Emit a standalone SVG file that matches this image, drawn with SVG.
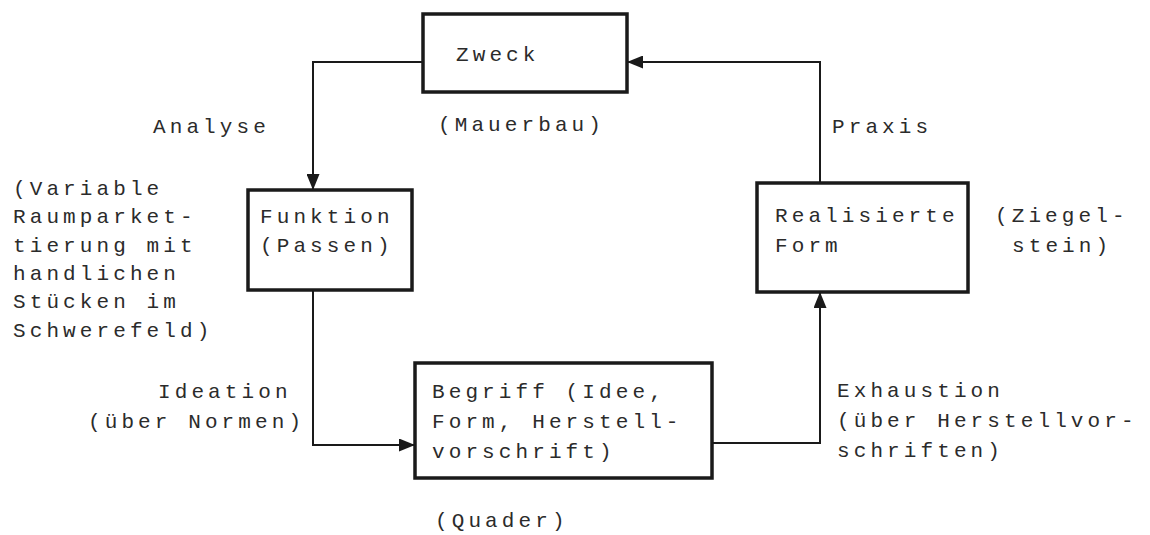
<svg xmlns="http://www.w3.org/2000/svg" width="1150" height="535" viewBox="0 0 1150 535">
  <style>
    .box { fill: #ffffff; stroke: #1a1a1a; stroke-width: 3.5; }
    .wire { fill: none; stroke: #1a1a1a; stroke-width: 2; }
    text { font-family: "Liberation Mono", "Courier New", monospace; font-size: 21px; letter-spacing: 4.1px; fill: #2b2b2b; }
  </style>
  <defs>
    <marker id="arrow" viewBox="0 0 16 13" refX="16" refY="6.5" markerWidth="16" markerHeight="13" markerUnits="userSpaceOnUse" orient="auto">
      <path d="M0,0 L16,6.5 L0,13 z" fill="#1a1a1a"/>
    </marker>
  </defs>
  <rect width="1150" height="535" fill="#ffffff"/>

  <!-- connectors: Analyse, Ideation, Exhaustion, Praxis -->
  <g id="connectors">
    <path class="wire" d="M423,62 H313 V190" marker-end="url(#arrow)"/>
    <path class="wire" d="M313,290 V445 H415" marker-end="url(#arrow)"/>
    <path class="wire" d="M712,443 H820 V292" marker-end="url(#arrow)"/>
    <path class="wire" d="M820,183 V62 H627" marker-end="url(#arrow)"/>
  </g>

  <!-- edge labels -->
  <g id="labels">
    <text x="153" y="133">Analyse</text>
    <text x="832" y="133">Praxis</text>
    <text x="158" y="398">Ideation</text>
    <text x="88" y="428">(über Normen)</text>
    <text x="837" y="397">Exhaustion</text>
    <text x="837" y="427">(über Herstellvor-</text>
    <text x="837" y="457">schriften)</text>
  </g>

  <g id="zweck">
    <rect class="box" x="423" y="14" width="204" height="78"/>
    <text x="456" y="61">Zweck</text>
    <text x="438" y="131">(Mauerbau)</text>
  </g>

  <g id="funktion">
    <rect class="box" x="248" y="190" width="164" height="100"/>
    <text x="260" y="223">Funktion</text>
    <text x="260" y="252">(Passen)</text>
    <text x="13" y="195">(Variable</text>
    <text x="13" y="223">Raumparket-</text>
    <text x="13" y="252">tierung mit</text>
    <text x="13" y="280">handlichen</text>
    <text x="13" y="308">Stücken im</text>
    <text x="13" y="337">Schwerefeld)</text>
  </g>

  <g id="begriff">
    <rect class="box" x="415" y="363" width="297" height="115"/>
    <text x="432" y="398">Begriff (Idee,</text>
    <text x="432" y="428">Form, Herstell-</text>
    <text x="432" y="458">vorschrift)</text>
    <text x="435" y="527">(Quader)</text>
  </g>

  <g id="realisierte-form">
    <rect class="box" x="757" y="183" width="211" height="109"/>
    <text x="775" y="222">Realisierte</text>
    <text x="775" y="252">Form</text>
    <text x="995" y="222">(Ziegel-</text>
    <text x="1012" y="252">stein)</text>
  </g>
</svg>
